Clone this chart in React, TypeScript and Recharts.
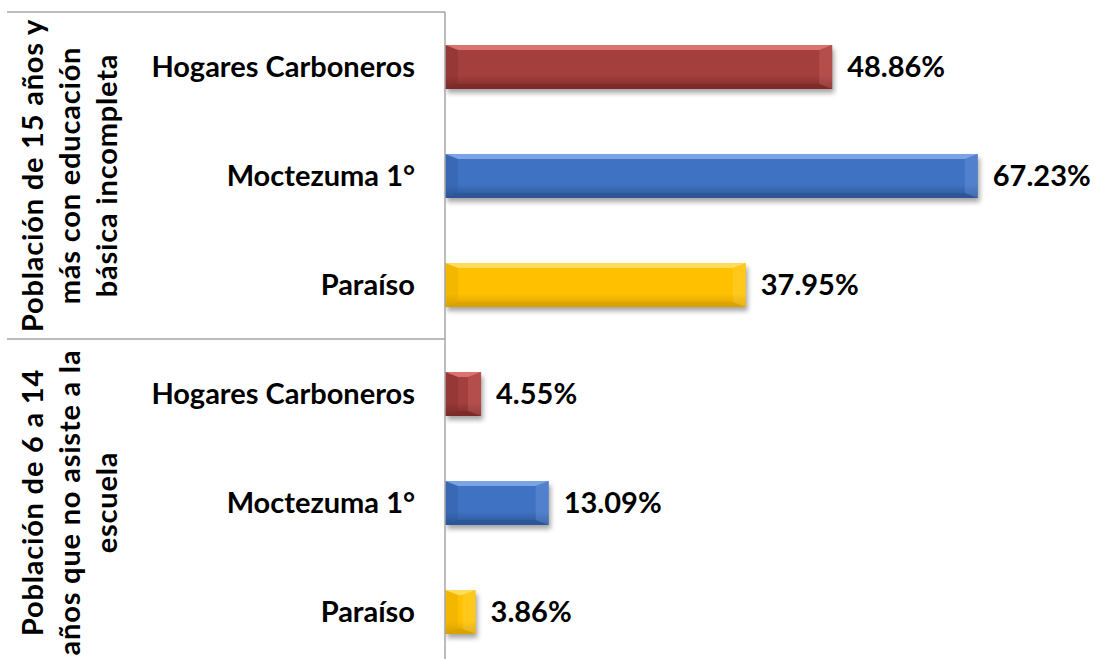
import React from "react";
import { BarChart, Bar, XAxis, YAxis, Cell, LabelList } from "recharts";

// ---- data ----
const groupLines: string[][] = [
  ["Población de 15 años y", "más con educación", "básica incompleta"],
  ["Población de 6 a 14", "años que no asiste a la", "escuela"],
];
const localities = ["Hogares Carboneros", "Moctezuma 1°", "Paraíso"];
const groupValues: number[][] = [
  [48.86, 67.23, 37.95],
  [4.55, 13.09, 3.86],
];
const valueDomain: [number, number] = [0, 80];

// ---- styles ----
const palette: Record<string, { base: string; light: string; dark: string }> = {
  "Hogares Carboneros": { base: "#A33F3D", light: "#E37B79", dark: "#7C2B29" },
  "Moctezuma 1°": { base: "#3F72C2", light: "#86ADEA", dark: "#2B5596" },
  "Paraíso": { base: "#FFC000", light: "#FFE16A", dark: "#D9A100" },
};
const FONT = "Lato, 'Open Sans', sans-serif";
const FS = 29;
const AXIS_X = 445;
const BAND = 109;

const data = groupValues.flatMap((vals, g) =>
  vals.map((v, i) => ({ id: `${g}-${i}`, group: g, name: localities[i], value: v }))
);

const keyOf = (name: string) => localities.indexOf(name);

const BevelBar = (props: any) => {
  const { x, y, width, height, payload } = props;
  if (!width || width <= 0) return null;
  const c = palette[payload.name];
  const k = keyOf(payload.name);
  const b = Math.min(13, width / 2, height / 2);
  const bt = Math.min(5, height / 2);
  return (
    <g>
      <rect x={x + 2} y={y + 4} width={width} height={height} fill="#000" opacity={0.35} filter="url(#shadowBlur)" />
      <rect x={x} y={y} width={width} height={height} fill={`url(#body${k})`} />
      <polygon points={`${x},${y} ${x + width},${y} ${x + width - b},${y + bt} ${x + b},${y + bt}`} fill={c.light} opacity={0.85} />
      <polygon points={`${x},${y + height} ${x + width},${y + height} ${x + width - b},${y + height - bt} ${x + b},${y + height - bt}`} fill={c.dark} opacity={0.8} />
      <polygon points={`${x},${y} ${x + b},${y + bt} ${x + b},${y + height - bt} ${x},${y + height}`} fill={c.dark} opacity={0.3} />
      <polygon points={`${x + width},${y} ${x + width - b},${y + bt} ${x + width - b},${y + height - bt} ${x + width},${y + height}`} fill={c.light} opacity={0.25} />
    </g>
  );
};

const CategoryTick = (props: any) => {
  const { y, payload } = props;
  const idx = payload.index;
  const d = data[idx];
  const lineStroke = "#A6A6A6";
  const g = d.group;
  return (
    <g>
      {(idx === 0 || idx === 3) && (
        <line x1={7} x2={AXIS_X} y1={y - BAND / 2} y2={y - BAND / 2} stroke={lineStroke} strokeWidth={1.5} />
      )}
      {idx === 5 && (
        <line x1={7} x2={AXIS_X} y1={y + BAND / 2} y2={y + BAND / 2} stroke={lineStroke} strokeWidth={1.5} />
      )}
      <text x={AXIS_X - 30} y={y + 10} textAnchor="end" fontFamily={FONT} fontWeight={700} fontSize={FS} fill="#000">
        {d.name}
      </text>
      {(idx === 1 || idx === 4) &&
        groupLines[g].map((ln, li) => {
          const bx = 43 + li * 37;
          return (
            <text
              key={li}
              x={bx}
              y={y}
              transform={`rotate(-90, ${bx}, ${y})`}
              textAnchor="middle"
              fontFamily={FONT}
              fontWeight={700}
              fontSize={FS}
              letterSpacing={0.8}
              fill="#000"
            >
              {ln}
            </text>
          );
        })}
    </g>
  );
};

const ValueLabel = (props: any) => {
  const { x, y, width, height, value } = props;
  return (
    <text x={x + width + 15} y={y + height / 2 + 10} fontFamily={FONT} fontWeight={700} fontSize={FS} fill="#000">
      {`${Number(value).toFixed(2)}%`}
    </text>
  );
};

export default function App() {
  return (
    <div style={{ position: "absolute", left: 0, top: 0, width: 1095, height: 659, overflow: "hidden", background: "#fff" }}>
      <BarChart
        width={1095}
        height={680}
        data={data}
        layout="vertical"
        margin={{ top: 12, right: 16, bottom: 14, left: 0 }}
        barSize={44}
      >
        <defs>
          {localities.map((n, k) => (
            <linearGradient key={n} id={`body${k}`} x1="0" y1="0" x2="0" y2="1">
              <stop offset="0%" stopColor={palette[n].base} />
              <stop offset="70%" stopColor={palette[n].base} />
              <stop offset="100%" stopColor={palette[n].dark} />
            </linearGradient>
          ))}
          <filter id="shadowBlur" x="-20%" y="-50%" width="140%" height="200%">
            <feGaussianBlur stdDeviation="2.5" />
          </filter>
        </defs>
        <XAxis type="number" domain={valueDomain} hide />
        <YAxis
          type="category"
          dataKey="id"
          width={AXIS_X}
          axisLine={{ stroke: "#A6A6A6", strokeWidth: 1.5 }}
          tickLine={false}
          tick={<CategoryTick />}
          interval={0}
        />
        <Bar dataKey="value" isAnimationActive={false} shape={<BevelBar />}>
          {data.map((d) => (
            <Cell key={d.id} fill={palette[d.name].base} />
          ))}
          <LabelList dataKey="value" content={<ValueLabel />} />
        </Bar>
      </BarChart>
    </div>
  );
}
